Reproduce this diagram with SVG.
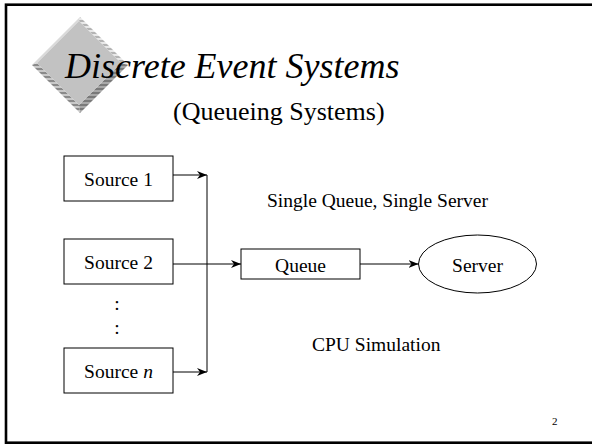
<svg xmlns="http://www.w3.org/2000/svg" width="592" height="445" viewBox="0 0 592 445">
<style>
text{font-family:"Liberation Serif","Times New Roman",serif;fill:#000}
.lbl{font-size:19.5px}
.box{fill:#fff;stroke:#000;stroke-width:1}
.conn{fill:none;stroke:#000;stroke-width:1}
</style>
<defs>
<marker id="arr" viewBox="0 0 10 8" refX="10" refY="4" markerWidth="10" markerHeight="8" markerUnits="userSpaceOnUse" orient="auto">
<path d="M0,0 L10,4 L0,8 L3,4 Z" fill="#000"/>
</marker>
<pattern id="stripeDark" width="4" height="4" patternUnits="userSpaceOnUse">
<rect width="4" height="4" fill="#c8c8c8"/><rect width="4" height="2" fill="#8a8a8a"/>
</pattern>
<pattern id="stripeLight" width="4" height="4" patternUnits="userSpaceOnUse">
<rect width="4" height="4" fill="#e8e8e8"/><rect width="4" height="2" fill="#b4b4b4"/>
</pattern>
<pattern id="stripeMid" width="4" height="4" patternUnits="userSpaceOnUse">
<rect width="4" height="4" fill="#a8a8a8"/><rect width="4" height="2" fill="#7a7a7a"/>
</pattern>
</defs>
<rect x="6" y="4.7" width="592" height="438" fill="#fff" stroke="#000" stroke-width="2.6"/>
<g id="logo">
<polygon points="80,17 128,65 121,63 79,21" fill="url(#stripeLight)"/>
<polygon points="32,65 80,17 79,21 37,63" fill="#dadada"/>
<polygon points="32,65 37,63 79,105 80,113" fill="url(#stripeDark)"/>
<polygon points="128,65 80,113 79,105 121,63" fill="url(#stripeMid)"/>
<polygon points="79,21 121,63 79,105 37,63" fill="#c2c2c2"/>
</g>
<g id="title">
<text x="65" y="78" font-size="36" font-style="italic">Discrete Event Systems</text>
<text x="173" y="120" font-size="26">(Queueing Systems)</text>
</g>
<g id="source1"><rect class="box" x="64" y="156" width="109" height="45"/><text class="lbl" x="118.5" y="186" text-anchor="middle">Source 1</text></g>
<g id="source2"><rect class="box" x="64" y="239" width="109" height="45"/><text class="lbl" x="118.5" y="269" text-anchor="middle">Source 2</text></g>
<g id="sourcen"><rect class="box" x="64" y="348" width="109" height="45"/><text class="lbl" x="118.5" y="378" text-anchor="middle">Source <tspan font-style="italic">n</tspan></text></g>
<g id="dots"><text class="lbl" x="117" y="310" text-anchor="middle">:</text><text class="lbl" x="117" y="334" text-anchor="middle">:</text></g>
<g id="queue"><rect class="box" x="241" y="249" width="119" height="30"/><text class="lbl" x="300.5" y="272" text-anchor="middle">Queue</text></g>
<g id="server"><ellipse cx="477.5" cy="264" rx="59" ry="29" fill="#fff" stroke="#000" stroke-width="1"/><text class="lbl" x="477.5" y="272" text-anchor="middle">Server</text></g>
<g id="connectors">
<line class="conn" x1="207" y1="175" x2="207" y2="372"/>
<line class="conn" x1="173" y1="175" x2="207" y2="175" marker-end="url(#arr)"/>
<line class="conn" x1="173" y1="372" x2="207" y2="372" marker-end="url(#arr)"/>
<line class="conn" x1="173" y1="264" x2="241" y2="264" marker-end="url(#arr)"/>
<line class="conn" x1="360" y1="264" x2="418.5" y2="264" marker-end="url(#arr)"/>
</g>
<g id="labels">
<text class="lbl" x="267" y="207">Single Queue, Single Server</text>
<text class="lbl" x="312" y="351">CPU Simulation</text>
<text x="552" y="425" font-size="11">2</text>
</g>
</svg>
